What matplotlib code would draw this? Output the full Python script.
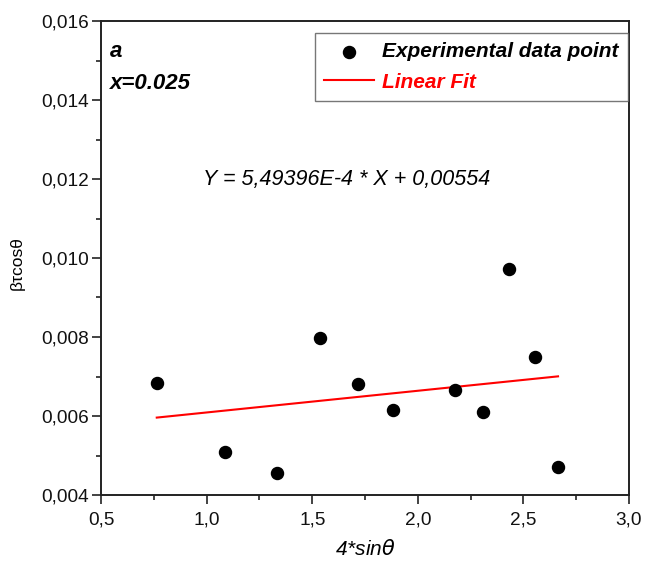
import matplotlib
matplotlib.use("Agg")
import matplotlib.pyplot as plt
from matplotlib.ticker import MultipleLocator, FuncFormatter

plt.rcParams['font.family'] = ['Liberation Sans', 'DejaVu Sans']

x_data = [0.764, 1.087, 1.332, 1.538, 1.718, 1.884, 2.176, 2.307, 2.433, 2.555, 2.664]
y_data = [0.00684, 0.00510, 0.00456, 0.00797, 0.00682, 0.00614, 0.00665, 0.00610, 0.00973, 0.00749, 0.00472]
slope = 5.49396e-4
intercept = 0.00554
fit_x = [0.764, 2.664]

fig = plt.figure(figsize=(6.47, 5.72), dpi=100)
ax = fig.add_axes([101/647, 1 - 495/572, (629-101)/647, (495-21)/572])

ax.scatter(x_data, y_data, s=75, color='black', zorder=3, label='Experimental data point')
ax.plot(fit_x, [slope*v + intercept for v in fit_x], color='red', lw=1.5, label='Linear Fit')

ax.set_xlim(0.5, 3.0)
ax.set_ylim(0.004, 0.016)
ax.xaxis.set_major_locator(MultipleLocator(0.5))
ax.xaxis.set_minor_locator(MultipleLocator(0.25))
ax.yaxis.set_major_locator(MultipleLocator(0.002))
ax.yaxis.set_minor_locator(MultipleLocator(0.001))
ax.xaxis.set_major_formatter(FuncFormatter(lambda v, p: f"{v:.1f}".replace('.', ',')))
ax.yaxis.set_major_formatter(FuncFormatter(lambda v, p: f"{v:.3f}".replace('.', ',')))
ax.tick_params(which='both', direction='out', top=False, right=False, labelsize=13.7, width=1.2,
               color='#222222', labelcolor='#111111')
ax.tick_params(which='major', length=6.5, pad=2)
ax.tick_params(axis='x', which='major', pad=5.5)
ax.tick_params(which='minor', length=3.6)
for s in ax.spines.values():
    s.set_linewidth(1.4)
    s.set_color('#222222')

ax.set_xlabel('4*sin$\\theta$', fontsize=15, style='italic')
ax.xaxis.set_label_coords(0.5, -0.093)
ax.set_ylabel('βτcosθ', fontsize=12.5)
ax.yaxis.set_label_coords(-0.145, 0.49)

leg = ax.legend(loc='upper right', bbox_to_anchor=(0.9985, 0.975), frameon=True, fancybox=False,
                edgecolor='#555555', fontsize=15, handlelength=2.4, borderpad=0.45,
                labelspacing=0.55, handletextpad=0.4, borderaxespad=0.0)
leg.get_frame().set_linewidth(1.0)
for t in leg.get_texts():
    t.set_fontweight('bold')
    t.set_fontstyle('italic')
leg.get_texts()[1].set_color('red')

ax.text(0.017, 0.935, 'a', transform=ax.transAxes, fontsize=16, fontweight='bold', style='italic', va='center')
ax.text(0.017, 0.868, 'x=0.025', transform=ax.transAxes, fontsize=16, fontweight='bold', style='italic', va='center')
ax.text(0.466, 0.665, 'Y = 5,49396E-4 * X + 0,00554', transform=ax.transAxes, fontsize=15.5, style='italic',
        ha='center', va='center')

fig.savefig('out.png', dpi=100)
